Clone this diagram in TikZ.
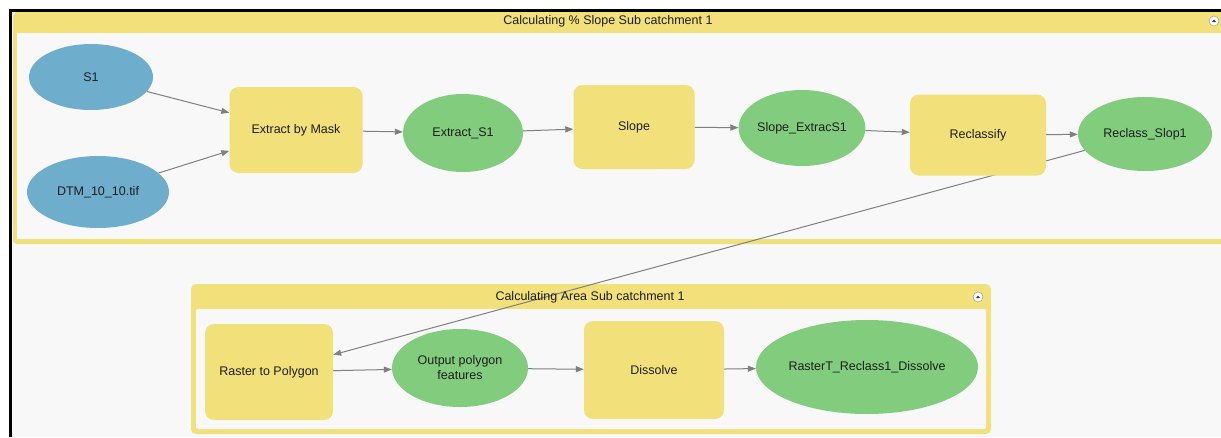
\documentclass[tikz,border=0pt]{standalone}
\usepackage{fontspec}
\setmainfont{Liberation Sans}
\usetikzlibrary{shapes.geometric,arrows.meta}
\definecolor{tyellow}{RGB}{242,224,122}
\definecolor{vblue}{RGB}{110,174,204}
\definecolor{vgreen}{RGB}{130,204,126}
\definecolor{bgc}{RGB}{248,248,248}
\definecolor{edgegray}{RGB}{128,128,128}
\definecolor{txt}{RGB}{30,30,30}
\pgfdeclarelayer{bgl}
\pgfdeclarelayer{edgel}
\pgfsetlayers{bgl,edgel,main}
\begin{document}
\begin{tikzpicture}[x=1pt,y=-1pt, font=\fontsize{12.5}{15}\selectfont,
 tool/.style={rectangle, rounded corners=9pt, fill=tyellow, text=txt, inner sep=0pt},
 invar/.style={ellipse, fill=vblue, text=txt, inner sep=0pt},
 outvar/.style={ellipse, fill=vgreen, text=txt, inner sep=0pt},
 conn/.style={draw=edgegray, line width=1pt, -{Triangle[length=8pt,width=6pt]}},
 grouptitle/.style={text=txt, inner sep=0pt},
 collapse/.style={circle, draw=gray!70, fill=white, line width=0.6pt, minimum size=10pt, inner sep=0pt}]
\useasboundingbox (0,0) rectangle (1221,437);
\begin{pgfonlayer}{bgl}
\clip (0,0) rectangle (1221,437);
\fill[white] (0,0) rectangle (1221,437);
\fill[bgc] (10,10) rectangle (1221,437);
% top group
\fill[tyellow, rounded corners=4pt] (13,12) rectangle (1240,244);
\fill[bgc] (17,33) rectangle (1240,239);
% bottom group
\fill[tyellow, rounded corners=5pt] (191,284) rectangle (991,434);
\fill[bgc, rounded corners=2pt] (196,309) rectangle (986,429);
% black frame
\draw[line width=2.2pt] (10.5,437) -- (10.5,10.5) -- (1221,10.5);
\end{pgfonlayer}

% group titles and icons
\node[grouptitle] (t1) at (608,21) {Calculating \% Slope Sub catchment 1};
\node[collapse] (ic1) at (1214,21) {};
\fill[darkgray] ([shift={(-2,1)}]ic1.center) -- ([shift={(2,1)}]ic1.center) -- ([shift={(0,-1.5)}]ic1.center) -- cycle;
\node[grouptitle] (t2) at (590,297) {Calculating Area Sub catchment 1};
\node[collapse] (ic2) at (978,297) {};
\fill[darkgray] ([shift={(-2,1)}]ic2.center) -- ([shift={(2,1)}]ic2.center) -- ([shift={(0,-1.5)}]ic2.center) -- cycle;

% top nodes
\node[invar, minimum width=124pt, minimum height=66pt] (s1) at (91,77) {S1};
\node[invar, minimum width=142pt, minimum height=72pt] (dtm) at (98,192) {DTM\_10\_10.tif};
\node[tool, minimum width=133pt, minimum height=86pt] (ebm) at (296,130) {Extract by Mask};
\node[outvar, minimum width=120pt, minimum height=78pt] (es1) at (463,133) {Extract\_S1};
\node[tool, minimum width=121pt, minimum height=84pt] (slope) at (634,127) {Slope};
\node[outvar, minimum width=120pt, minimum height=76pt] (ses1) at (802,128) {Slope\_ExtracS1};
\node[tool, minimum width=136pt, minimum height=81pt] (recl) at (978,135) {Reclassify};
\node[outvar, minimum width=134pt, minimum height=74pt] (rs1) at (1145,134) {Reclass\_Slop1};

% bottom nodes
\node[tool, minimum width=128pt, minimum height=96pt] (r2p) at (269,372) {Raster to Polygon};
\node[outvar, minimum width=136pt, minimum height=78pt, align=center] (opf) at (460,368) {Output polygon\\features};
\node[tool, minimum width=140pt, minimum height=98pt] (diss) at (654,370) {Dissolve};
\node[outvar, minimum width=220pt, minimum height=94pt] (rtd) at (867,367) {RasterT\_Reclass1\_Dissolve};

\begin{pgfonlayer}{edgel}
\draw[conn] (s1) -- (ebm);
\draw[conn] (dtm) -- (ebm);
\draw[conn] (ebm) -- (es1);
\draw[conn] (es1) -- (slope);
\draw[conn] (slope) -- (ses1);
\draw[conn] (ses1) -- (recl);
\draw[conn] (recl) -- (rs1);
\draw[conn] (rs1) -- (r2p);
\draw[conn] (r2p) -- (opf);
\draw[conn] (opf) -- (diss);
\draw[conn] (diss) -- (rtd);
\end{pgfonlayer}
\end{tikzpicture}
\end{document}
